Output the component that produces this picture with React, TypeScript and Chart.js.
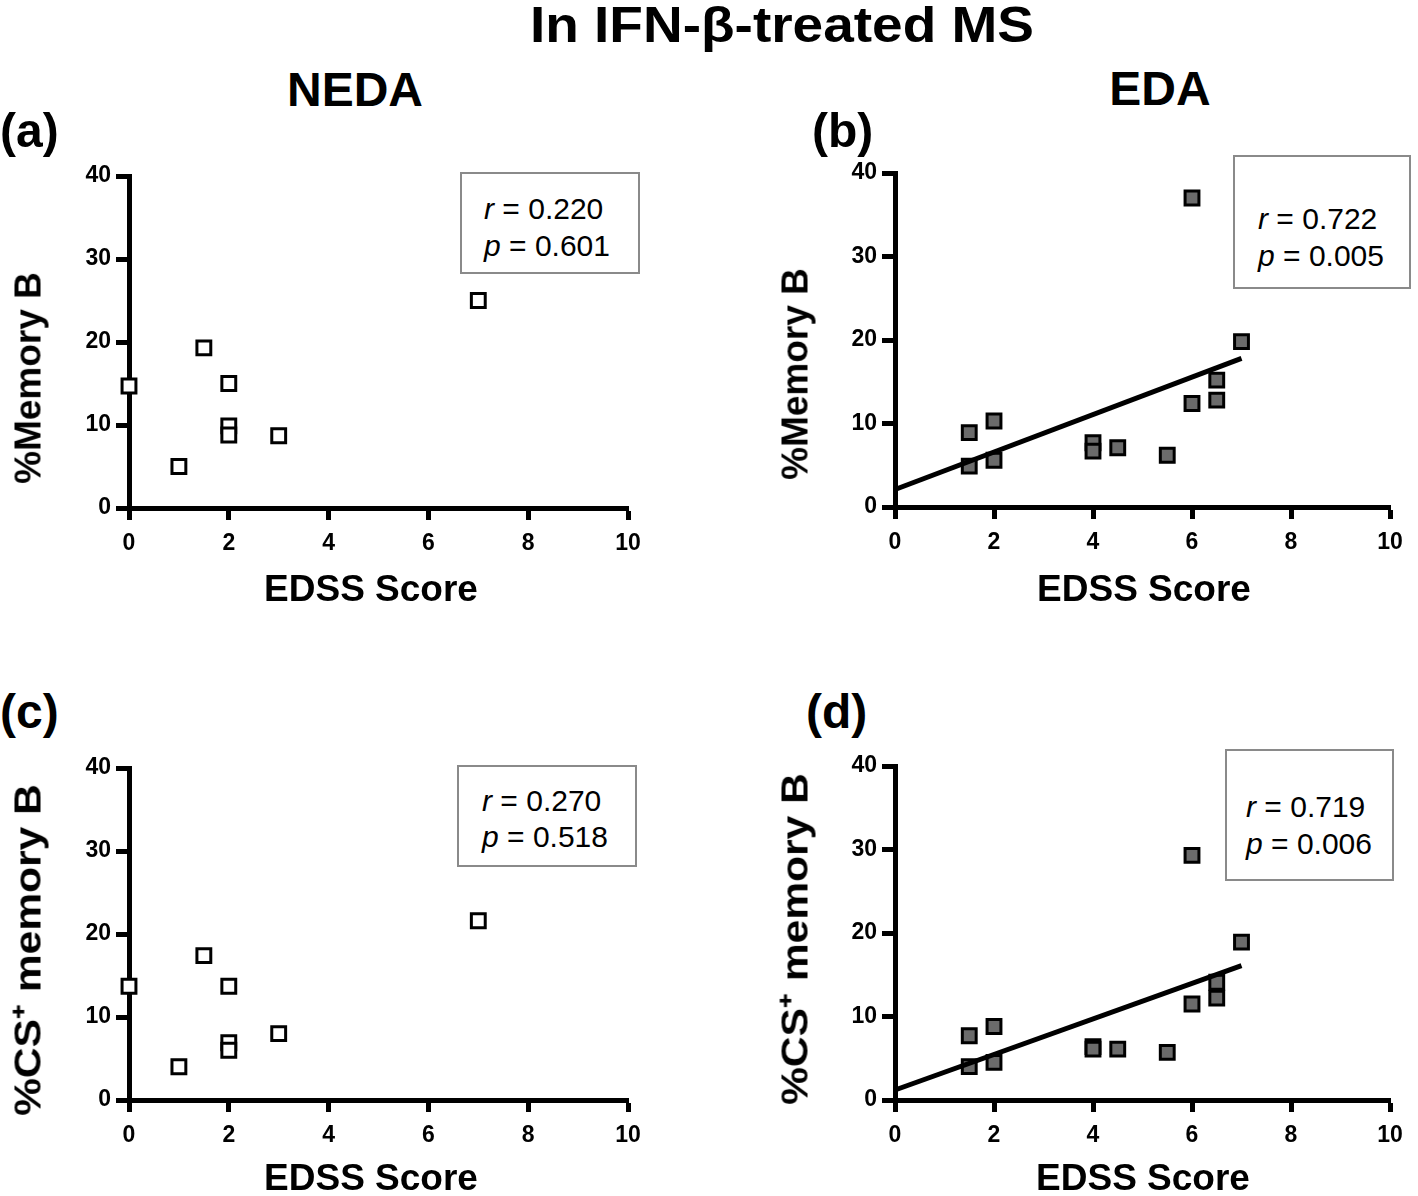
import React, { useEffect, useRef } from "react";
import { Chart, registerables } from "chart.js";

Chart.register(...registerables);

// ---------- data ----------
const xTickValues = [0, 2, 4, 6, 8, 10];
const yTickValues = [0, 10, 20, 30, 40];

const edssNEDA = [0, 1, 1.5, 2, 2, 2, 3, 7];
const memoryBNEDA = [14.7, 5.0, 19.3, 15.0, 9.9, 8.8, 8.7, 25.0];
const csMemoryBNEDA = [13.7, 4.0, 17.4, 13.7, 6.9, 6.0, 8.0, 21.6];

const edssEDA = [1.5, 1.5, 2, 2, 4, 4, 4.5, 5.5, 6, 6, 6.5, 6.5, 7];
const memoryBEDA = [8.9, 4.9, 10.3, 5.6, 7.7, 6.7, 7.1, 6.2, 37.0, 12.4, 15.2, 12.8, 19.8];
const csMemoryBEDA = [7.7, 4.0, 8.8, 4.5, 6.4, 6.1, 6.1, 5.7, 29.3, 11.5, 14.1, 12.2, 18.9];

const fitX = [0, 7];
const fitMemoryBEDA = [2.1, 17.8];
const fitCsMemoryBEDA = [1.2, 16.1];

const statsA = { r: "0.220", p: "0.601" };
const statsB = { r: "0.722", p: "0.005" };
const statsC = { r: "0.270", p: "0.518" };
const statsD = { r: "0.719", p: "0.006" };

// ---------- styling ----------
const SANS = "'Liberation Sans', Arial, Helvetica, sans-serif";
const TICK_FONT = "'Liberation Sans Narrow', 'Liberation Sans', Arial, sans-serif";

type Area = { left: number; right: number; top: number; bottom: number };

function toPoints(xs: number[], ys: number[]) {
  return xs.map((x, i) => ({ x, y: ys[i] }));
}

function Panel(props: {
  left: number;
  top: number;
  width: number;
  height: number;
  area: Area;
  xs: number[];
  ys: number[];
  filled: boolean;
  fitYs?: number[];
}) {
  const ref = useRef<HTMLCanvasElement>(null);
  useEffect(() => {
    const { width, height, area, xs, ys, filled, fitYs } = props;
    const datasets: any[] = [
      {
        type: "scatter",
        data: toPoints(xs, ys),
        pointStyle: "rect",
        pointRadius: 9.8,
        pointBorderWidth: 3,
        pointBackgroundColor: filled ? "#6b6b6b" : "#ffffff",
        pointBorderColor: "#000000",
        clip: false,
        order: 2,
      },
    ];
    if (fitYs) {
      datasets.push({
        type: "line",
        data: toPoints(fitX, fitYs),
        showLine: true,
        borderColor: "#000000",
        borderWidth: 5,
        pointRadius: 0,
        fill: false,
        clip: false,
        order: 1,
      });
    }
    const tickFont = { family: TICK_FONT, size: 23, weight: "bold" as const };
    const chart = new Chart(ref.current as HTMLCanvasElement, {
      type: "scatter",
      data: { datasets },
      options: {
        responsive: false,
        animation: false,
        devicePixelRatio: 1,
        layout: {
          padding: { left: 0, top: area.top, right: width - area.right, bottom: 0 },
        },
        plugins: { legend: { display: false }, tooltip: { enabled: false } },
        scales: {
          x: {
            type: "linear",
            min: 0,
            max: 10,
            afterBuildTicks: (s: any) => {
              s.ticks = xTickValues.map((v) => ({ value: v }));
            },
            afterFit: (s: any) => {
              s.height = height - area.bottom;
            },
            grid: {
              drawOnChartArea: false,
              drawTicks: true,
              tickLength: 12,
              tickWidth: 5,
              tickColor: "#000000",
            },
            border: { display: true, width: 5, color: "#000000" },
            ticks: { color: "#000000", font: tickFont, padding: 10, maxRotation: 0 },
          },
          y: {
            type: "linear",
            min: 0,
            max: 40,
            afterBuildTicks: (s: any) => {
              s.ticks = yTickValues.map((v) => ({ value: v }));
            },
            afterFit: (s: any) => {
              s.width = area.left;
            },
            grid: {
              drawOnChartArea: false,
              drawTicks: true,
              tickLength: 13,
              tickWidth: 5,
              tickColor: "#000000",
            },
            border: { display: true, width: 5, color: "#000000" },
            ticks: { color: "#000000", font: tickFont, padding: 5 },
          },
        },
      } as any,
    });
    return () => chart.destroy();
  }, []);
  return (
    <canvas
      ref={ref}
      width={props.width}
      height={props.height}
      style={{ position: "absolute", left: props.left, top: props.top, width: props.width, height: props.height }}
    />
  );
}

// text positioned by its baseline (line-height = font size)
function Text(props: {
  x: number;
  baseline: number;
  size: number;
  bold?: boolean;
  center?: boolean;
  children: React.ReactNode;
  scaleX?: number;
}) {
  const { x, baseline, size, bold, center, scaleX } = props;
  const top = baseline - 0.8465 * size;
  const transforms: string[] = [];
  if (center) transforms.push("translateX(-50%)");
  if (scaleX) transforms.push(`scaleX(${scaleX})`);
  return (
    <div
      style={{
        position: "absolute",
        left: x,
        top,
        fontFamily: SANS,
        fontSize: size,
        lineHeight: `${size}px`,
        fontWeight: bold ? "bold" : "normal",
        whiteSpace: "nowrap",
        color: "#000",
        transform: transforms.length ? transforms.join(" ") : undefined,
        transformOrigin: center ? "center" : "left",
      }}
    >
      {props.children}
    </div>
  );
}

function YTitle(props: { cx: number; cy: number; stretch?: number; children: React.ReactNode }) {
  const s = props.stretch ?? 1;
  return (
    <div
      style={{
        position: "absolute",
        left: props.cx,
        top: props.cy,
        fontFamily: SANS,
        fontSize: 37,
        lineHeight: "37px",
        fontWeight: "bold",
        whiteSpace: "nowrap",
        color: "#000",
        transform: `translate(-50%, -50%) rotate(-90deg) scaleX(${s})`,
      }}
    >
      {props.children}
    </div>
  );
}

function StatBox(props: { left: number; top: number; width: number; height: number; textLeft: number; line1: number; line2: number; r: string; p: string }) {
  const fs = 30;
  return (
    <>
      <div
        style={{
          position: "absolute",
          left: props.left,
          top: props.top,
          width: props.width,
          height: props.height,
          border: "2px solid #8a8a8a",
          boxSizing: "border-box",
          background: "#fff",
        }}
      />
      <Text x={props.textLeft} baseline={props.line1} size={fs}>
        <i>r</i> = {props.r}
      </Text>
      <Text x={props.textLeft} baseline={props.line2} size={fs}>
        <i>p</i> = {props.p}
      </Text>
    </>
  );
}

export default function App() {
  return (
    <div style={{ position: "absolute", left: 0, top: 0, width: 1418, height: 1196, background: "#fff", overflow: "hidden" }}>
      <Panel left={0} top={150} width={700} height={470} area={{ left: 129, right: 628, top: 26, bottom: 358 }} xs={edssNEDA} ys={memoryBNEDA} filled={false} />
      <Panel left={760} top={150} width={658} height={470} area={{ left: 135, right: 630, top: 23, bottom: 357 }} xs={edssEDA} ys={memoryBEDA} filled={true} fitYs={fitMemoryBEDA} />
      <Panel left={0} top={740} width={700} height={456} area={{ left: 129, right: 628, top: 28, bottom: 360 }} xs={edssNEDA} ys={csMemoryBNEDA} filled={false} />
      <Panel left={760} top={740} width={658} height={456} area={{ left: 135, right: 630, top: 26, bottom: 360 }} xs={edssEDA} ys={csMemoryBEDA} filled={true} fitYs={fitCsMemoryBEDA} />

      <Text x={782} baseline={42} size={50} bold center scaleX={1.1}>In IFN-β-treated MS</Text>
      <Text x={355} baseline={107} size={48} bold center>NEDA</Text>
      <Text x={1160} baseline={106} size={48} bold center>EDA</Text>

      <Text x={0} baseline={148} size={48} bold>(a)</Text>
      <Text x={812} baseline={148} size={48} bold>(b)</Text>
      <Text x={0} baseline={729} size={48} bold>(c)</Text>
      <Text x={806} baseline={729} size={48} bold>(d)</Text>

      <YTitle cx={28} cy={378}>%Memory B</YTitle>
      <YTitle cx={795} cy={374}>%Memory B</YTitle>
      <YTitle cx={28} cy={950} stretch={1.15}>%CS⁺ memory B</YTitle>
      <YTitle cx={795} cy={939} stretch={1.15}>%CS⁺ memory B</YTitle>

      <Text x={371} baseline={601} size={37} bold center>EDSS Score</Text>
      <Text x={1144} baseline={601} size={37} bold center>EDSS Score</Text>
      <Text x={371} baseline={1190} size={37} bold center>EDSS Score</Text>
      <Text x={1143} baseline={1190} size={37} bold center>EDSS Score</Text>

      <StatBox left={460} top={172} width={180} height={102} textLeft={484} line1={219} line2={256} r={statsA.r} p={statsA.p} />
      <StatBox left={1233} top={155} width={178} height={134} textLeft={1258} line1={229} line2={266} r={statsB.r} p={statsB.p} />
      <StatBox left={457} top={765} width={180} height={102} textLeft={482} line1={811} line2={847} r={statsC.r} p={statsC.p} />
      <StatBox left={1225} top={749} width={169} height={132} textLeft={1246} line1={817} line2={854} r={statsD.r} p={statsD.p} />
    </div>
  );
}
